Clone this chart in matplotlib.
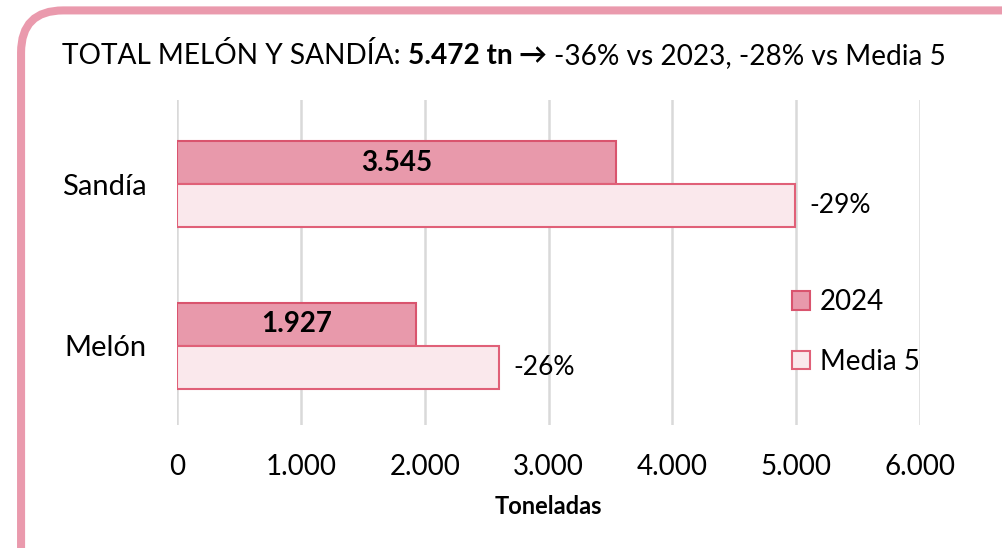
import matplotlib.pyplot as plt
from matplotlib.patches import FancyBboxPatch
from matplotlib.ticker import FuncFormatter

plt.rcParams['font.family'] = ['Lato', 'DejaVu Sans']

categorias = ['Melón', 'Sandía']
valores_2024 = [1927, 3545]
valores_media5 = [2600, 4990]
etiquetas_2024 = ['1.927', '3.545']
etiquetas_var = ['-26%', '-29%']
series = ['2024', 'Media 5']

fig = plt.figure(figsize=(10.03, 5.48), dpi=100, facecolor='white')

# marco rosa redondeado (cortado a la derecha y abajo)
marco = FancyBboxPatch((0.021, -0.1), 1.1, 1.081,
                       boxstyle='round,pad=0,rounding_size=0.042',
                       transform=fig.transFigure, facecolor='none',
                       edgecolor='#EA9AAD', linewidth=5.8, zorder=-1,
                       mutation_aspect=1003 / 548)
fig.patches.append(marco)

ax = fig.add_axes([0.1765, 0.2245, 0.7408, 0.593])
ax.set_facecolor('none')

h = 0.265
y = range(len(categorias))
y_2024 = [i + h / 2 for i in y]
y_media = [i - h / 2 for i in y]

ax.barh(y_2024, valores_2024, height=h, color='#E899AB',
        edgecolor='#D9546E', linewidth=1.5, label=series[0], zorder=3)
ax.barh(y_media, valores_media5, height=h, color='#FAE8EC',
        edgecolor='#E06078', linewidth=1.5, label=series[1], zorder=3)

for yy, v, t in zip(y_2024, valores_2024, etiquetas_2024):
    ax.text(v / 2, yy, t, ha='center', va='center', fontsize=20,
            fontweight='bold', zorder=4)
for yy, v, t in zip(y_media, valores_media5, etiquetas_var):
    ax.text(v + 120, yy, t, ha='left', va='center', fontsize=19, zorder=4)

ax.set_xlim(0, 6000)
ax.set_ylim(-0.49, 1.52)
ax.set_xticks(range(0, 6001, 1000))
ax.xaxis.set_major_formatter(FuncFormatter(lambda v, p: f'{int(v):,}'.replace(',', '.')))
ax.set_yticks(list(y))
ax.set_yticklabels(categorias)
ax.tick_params(axis='x', length=0, pad=21, labelsize=20)
ax.tick_params(axis='y', length=0, pad=22, labelsize=21)
ax.grid(axis='x', color='#D9D9D9', linewidth=1.8, zorder=0)
for s in ax.spines.values():
    s.set_visible(False)
ax.set_xlabel('Toneladas', fontsize=17, fontweight='bold', labelpad=11)

ax.legend(loc='center left', bbox_to_anchor=(0.828, 0.286), frameon=False,
          fontsize=20, handlelength=0.65, handleheight=0.65, handletextpad=0.35,
          labelspacing=1.2, borderpad=0, borderaxespad=0)

# título compuesto con partes en negrita
fs = 20.2
t1 = fig.text(0.062, 0.898, 'TOTAL MELÓN Y SANDÍA: ', fontsize=fs, va='center')
t2 = fig.text(0, 0, '5.472 tn ', fontsize=fs, fontweight='bold', va='center')
t3 = fig.text(0, 0, '→ ', fontsize=fs, fontweight='bold', va='center')
t4 = fig.text(0, 0, '-36% vs 2023, -28% vs Media 5', fontsize=fs, va='center')
fig.canvas.draw()
r = fig.canvas.get_renderer()
prev = t1
for t in (t2, t3, t4):
    bb = prev.get_window_extent(r)
    x = bb.x1 / fig.bbox.width
    t.set_position((x, 0.898))
    fig.canvas.draw()
    prev = t

fig.savefig('out.png', dpi=100)
